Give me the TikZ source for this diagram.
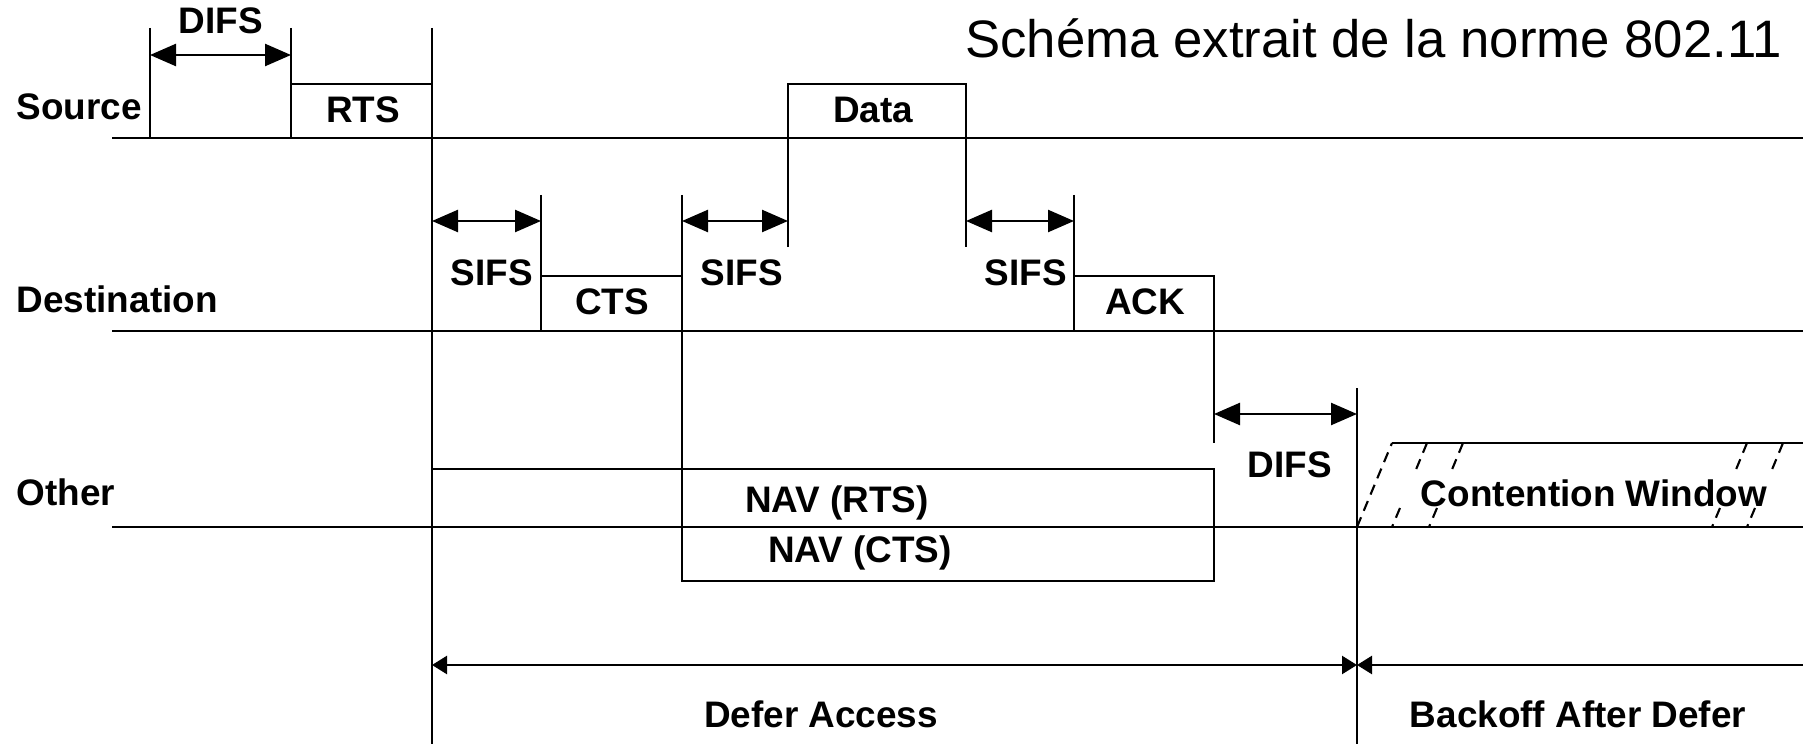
\documentclass[tikz,border=0pt]{standalone}
\usepackage{fontspec}
\setmainfont{Liberation Sans}
\usetikzlibrary{arrows.meta,positioning}

\begin{document}
\begin{tikzpicture}[
  line width=0.7pt,
  lbl/.style={font=\fontsize{10.5}{12}\selectfont\bfseries, inner sep=1pt},
  gap/.style={{Triangle[length=2.6mm,width=2.2mm]}-{Triangle[length=2.6mm,width=2.2mm]}},
  defer/.style={{Triangle[length=1.5mm,width=1.8mm]}-{Triangle[length=1.5mm,width=1.8mm]}},
  hatch/.style={line width=0.6pt, dash pattern=on 3pt off 2pt},
]
\def\rw{18.03}
\useasboundingbox (0,0) rectangle (\rw,7.44);
% title
\node[font=\fontsize{15}{18}\selectfont, anchor=east] (title) at (17.95,7.06) {Schéma extrait de la norme 802.11};
% station lines
\node[lbl, anchor=west] (src) at (0.12,6.37) {Source};
\node[lbl, anchor=west] (dst) at (0.12,4.45) {Destination};
\node[lbl, anchor=west] (oth) at (0.12,2.52) {Other};
\draw (1.12,6.06) -- (\rw,6.06);
\draw (1.12,4.13) -- (\rw,4.13);
\draw (1.12,2.17) -- (\rw,2.17);
% source: DIFS, RTS, Data
\draw (1.50,7.16) -- (1.50,6.06);
\draw (2.91,7.16) -- (2.91,6.06);
\draw[gap] (1.50,6.89) -- (2.91,6.89);
\node[lbl] (difsA) at (2.21,7.23) {DIFS};
\draw (2.91,6.06) rectangle (4.32,6.60);
\node[lbl] (rts) at (3.63,6.34) {RTS};
\draw (4.32,7.16) -- (4.32,0);
\draw (7.88,4.97) -- (7.88,6.60) -- (9.66,6.60) -- (9.66,4.97);
\node[lbl] (data) at (8.73,6.34) {Data};
% destination: SIFS, CTS, SIFS, SIFS, ACK
\draw[gap] (4.32,5.23) -- (5.41,5.23);
\node[lbl] (sifsA) at (4.92,4.71) {SIFS};
\draw (5.41,5.49) -- (5.41,4.13);
\draw (5.41,4.68) -- (6.82,4.68);
\node[lbl] (cts) at (6.12,4.42) {CTS};
\draw (6.82,5.49) -- (6.82,1.63);
\draw[gap] (6.82,5.23) -- (7.88,5.23);
\node[lbl] (sifsB) at (7.42,4.71) {SIFS};
\draw[gap] (9.66,5.23) -- (10.74,5.23);
\node[lbl] (sifsC) at (10.26,4.71) {SIFS};
\draw (10.74,5.49) -- (10.74,4.13);
\draw (10.74,4.68) -- (12.14,4.68) -- (12.14,3.01);
\node[lbl] (ack) at (11.45,4.42) {ACK};
% other: DIFS, NAV, contention window
\draw[gap] (12.14,3.30) -- (13.57,3.30);
\node[lbl] (difsB) at (12.90,2.79) {DIFS};
\draw (13.57,3.56) -- (13.57,0);
\draw (4.32,2.17) rectangle (12.14,2.75);
\node[lbl] (navR) at (8.37,2.41) {NAV (RTS)};
\draw (6.82,1.63) rectangle (12.14,2.17);
\node[lbl] (navC) at (8.60,1.91) {NAV (CTS)};
\draw (13.92,3.01) -- (\rw,3.01);
\draw[hatch] (13.57,2.17) -- (13.92,3.01);
\foreach \xa in {14.27,14.63,17.47,17.83}
  \draw[hatch] (\xa,3.01) -- (\xa-0.12,2.72);
\foreach \xb in {14.00,14.37,17.20,17.55}
  \draw[hatch] (\xb,2.36) -- (\xb-0.08,2.17);
\node[lbl] (cw) at (15.94,2.51) {Contention Window};
% defer / backoff
\draw[defer] (4.32,0.79) -- (13.57,0.79);
\draw[{Triangle[length=1.5mm,width=1.8mm]}-] (13.57,0.79) -- (\rw,0.79);
\node[lbl] (dfa) at (8.21,0.30) {Defer Access};
\node[lbl] (bad) at (15.78,0.30) {Backoff After Defer};
\end{tikzpicture}
\end{document}
